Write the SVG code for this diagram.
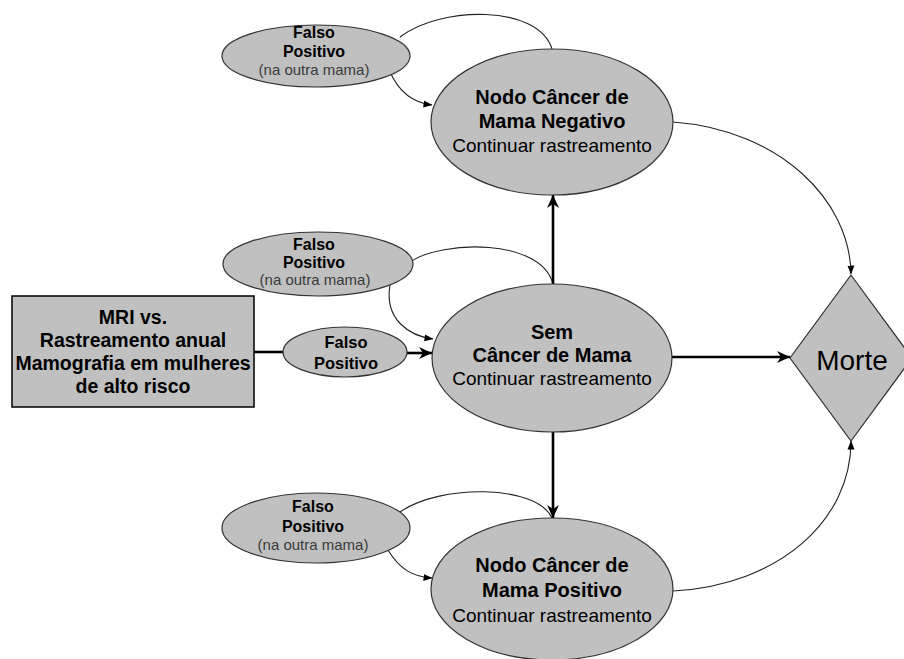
<svg xmlns="http://www.w3.org/2000/svg" width="904" height="659" viewBox="0 0 904 659">
<style>
.n{fill:#c0c0c0;stroke:#333;stroke-width:1.2}
.t{font-family:"Liberation Sans",Arial,sans-serif;text-anchor:middle;fill:#000}
.b{font-weight:bold}
.big{font-size:19px}
.bb{font-size:20px;font-weight:bold}
.rb{font-size:19.5px;font-weight:bold}
.sm{font-size:15px}
.sb{font-size:16px;font-weight:bold}
.gr{fill:#3a3a3a}
.thin{fill:none;stroke:#222;stroke-width:1.1}
.thick{fill:none;stroke:#000;stroke-width:2.6}
</style>
<defs>
<marker id="ah" markerUnits="userSpaceOnUse" markerWidth="14" markerHeight="14" viewBox="0 0 14 14" refX="13" refY="7" orient="auto">
<path d="M0,1 L13,7 L0,13 L4,7 z" fill="#000"/>
</marker>
<marker id="as" markerUnits="userSpaceOnUse" markerWidth="9" markerHeight="9" viewBox="0 0 9 9" refX="8.5" refY="4.5" orient="auto">
<path d="M0,1 L9,4.5 L0,8 z" fill="#000"/>
</marker>
</defs>
<rect width="904" height="659" fill="#fff"/>
<g id="connectors">
<path class="thin" d="M400,37 C440,6 538,4 552,49"/>
<path class="thin" d="M390,72 C400,94 414,103 432,105" marker-end="url(#as)"/>
<path class="thin" d="M410,262 C442,240 541,238 553,284"/>
<path class="thin" d="M390,285 C384,320 410,336 433,339" marker-end="url(#as)"/>
<path class="thin" d="M400,512 C440,484 536,484 552,518"/>
<path class="thin" d="M388,550 C400,570 414,577 432,578" marker-end="url(#as)"/>
<path class="thin" d="M673,122 C780,130 850,200 851,274" marker-end="url(#as)"/>
<path class="thin" d="M673,591 C780,585 851,520 851,441" marker-end="url(#as)"/>
<path class="thick" d="M254,352 L284,352"/>
<path class="thick" d="M407,353 L432,353" marker-end="url(#ah)"/>
<path class="thick" d="M672,357 L790,357" marker-end="url(#ah)"/>
<path class="thick" d="M553,284 L553,195" marker-end="url(#ah)"/>
<path class="thick" d="M553,432 L553,518" marker-end="url(#ah)"/>
</g>
<g id="fp-top">
<ellipse class="n" cx="316" cy="56" rx="94" ry="31"/>
<text class="t sb" x="314" y="38">Falso</text>
<text class="t sb" x="314" y="57">Positivo</text>
<text class="t sm gr" x="314" y="75">(na outra mama)</text>
</g>
<g id="neg">
<ellipse class="n" cx="552" cy="122" rx="121" ry="73"/>
<text class="t bb" x="552" y="104">Nodo Câncer de</text>
<text class="t bb" x="552" y="128">Mama Negativo</text>
<text class="t big" x="552" y="152">Continuar rastreamento</text>
</g>
<g id="fp-mid">
<ellipse class="n" cx="318" cy="264" rx="95" ry="32"/>
<text class="t sb" x="314" y="250">Falso</text>
<text class="t sb" x="314" y="268">Positivo</text>
<text class="t sm gr" x="315" y="285">(na outra mama)</text>
</g>
<g id="start">
<rect x="12" y="296" width="242" height="111" fill="#c0c0c0" stroke="#000" stroke-width="1.5"/>
<text class="t rb" x="133" y="324">MRI vs.</text>
<text class="t rb" x="133" y="347">Rastreamento anual</text>
<text class="t rb" x="133" y="370">Mamografia em mulheres</text>
<text class="t rb" x="133" y="393">de alto risco</text>
</g>
<g id="fp">
<ellipse class="n" cx="345" cy="352" rx="62" ry="25"/>
<text class="t b" style="font-size:16.5px" x="346" y="348">Falso</text>
<text class="t b" style="font-size:16.5px" x="346" y="369">Positivo</text>
</g>
<g id="sem">
<ellipse class="n" cx="552" cy="358" rx="120" ry="74"/>
<text class="t bb" x="552" y="339">Sem</text>
<text class="t bb" x="552" y="362">Câncer de Mama</text>
<text class="t big" x="552" y="385">Continuar rastreamento</text>
</g>
<g id="morte">
<polygon class="n" points="851,275 912,358 851,441 790,358"/>
<text class="t" style="font-size:28px" x="852" y="370">Morte</text>
</g>
<g id="fp-bot">
<ellipse class="n" cx="316" cy="528" rx="94" ry="35"/>
<text class="t sb" x="313" y="512">Falso</text>
<text class="t sb" x="313" y="532">Positivo</text>
<text class="t sm gr" x="313" y="550">(na outra mama)</text>
</g>
<g id="pos">
<ellipse class="n" cx="552" cy="589" rx="121" ry="71"/>
<text class="t bb" x="552" y="572">Nodo Câncer de</text>
<text class="t bb" x="552" y="597">Mama Positivo</text>
<text class="t big" x="552" y="622">Continuar rastreamento</text>
</g>
</svg>
